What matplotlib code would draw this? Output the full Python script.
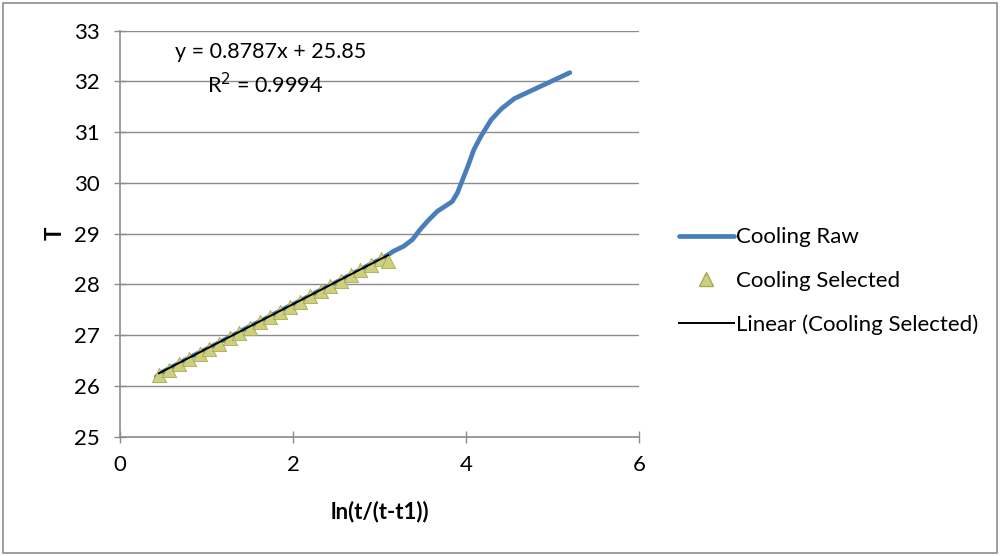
import numpy as np
import matplotlib.pyplot as plt
from matplotlib.lines import Line2D
from matplotlib.patches import Rectangle

plt.rcParams['font.family'] = ['Lato', 'DejaVu Sans']

# cooling curve, full run
raw_x = [0.42, 0.50, 0.70, 0.90, 1.10, 1.30, 1.50, 1.70, 1.90, 2.10, 2.30, 2.50,
         2.70, 2.90, 3.02, 3.08, 3.16, 3.28, 3.38, 3.47, 3.57, 3.67, 3.76, 3.84,
         3.90, 3.96, 4.02, 4.09, 4.17, 4.29, 4.41, 4.56, 4.76, 4.95, 5.20]
raw_y = [26.18, 26.28, 26.46, 26.64, 26.81, 26.99, 27.17, 27.34, 27.52, 27.69,
         27.87, 28.04, 28.22, 28.40, 28.50, 28.56, 28.65, 28.75, 28.88, 29.08,
         29.27, 29.44, 29.54, 29.63, 29.80, 30.06, 30.32, 30.65, 30.91, 31.24,
         31.46, 31.66, 31.82, 31.97, 32.17]

# points used for the linear fit
sel_x = [0.45, 0.57, 0.68, 0.80, 0.92, 1.03, 1.15, 1.27, 1.38, 1.50, 1.62, 1.73,
         1.85, 1.97, 2.08, 2.20, 2.32, 2.43, 2.55, 2.67, 2.78, 2.90, 3.02, 3.10]
sel_y = [26.22, 26.32, 26.42, 26.52, 26.63, 26.73, 26.83, 26.94, 27.04, 27.14,
         27.25, 27.35, 27.45, 27.56, 27.66, 27.76, 27.87, 27.97, 28.07, 28.18,
         28.28, 28.38, 28.49, 28.45]

slope, intercept, r2 = 0.8787, 25.85, 0.9994

blue = '#4A7EBB'
tri_face = '#CFD07C'
tri_edge = '#A8A957'
grid_c = '#8C8C8C'

fig = plt.figure(figsize=(10.01, 5.56), dpi=100)
fig.patches.append(Rectangle((3 / 1001, 3 / 556), 994 / 1001, 550 / 556,
                             transform=fig.transFigure, fill=False,
                             edgecolor='#8E8E8E', linewidth=1.2))

ax = fig.add_axes([0.1199, 0.2149, 0.5185, 0.7302])

ax.plot(raw_x, raw_y, color=blue, linewidth=3.4, solid_capstyle='round',
        solid_joinstyle='round', zorder=3)
ax.scatter(sel_x, sel_y, marker='^', s=105, facecolor=tri_face,
           edgecolor=tri_edge, linewidth=0.6, zorder=4)
fit_x = np.array([sel_x[0], sel_x[-1]])
ax.plot(fit_x, slope * fit_x + intercept, color='black', linewidth=1.4,
        zorder=5)

ax.text(1.74, 32.57, f'y = {slope}x + {intercept}', ha='center', va='center',
        fontsize=15.5)
ax.text(1.68, 31.93, f'R$^2$ = {r2}', ha='center', va='center', fontsize=15.5)

ax.set_xlim(0, 6)
ax.set_ylim(25, 33)
ax.set_xticks([0, 2, 4, 6])
ax.set_yticks(range(25, 34))
ax.tick_params(labelsize=16, length=9, direction='inout', color=grid_c,
               width=1.0)
ax.tick_params(axis='y', pad=10)
ax.tick_params(axis='x', pad=9)
ax.grid(axis='y', color=grid_c, linewidth=1.0)
ax.set_axisbelow(True)
for side in ('top', 'right'):
    ax.spines[side].set_visible(False)
for side in ('left', 'bottom'):
    ax.spines[side].set_color(grid_c)
    ax.spines[side].set_linewidth(1.2)

ax.set_xlabel('ln(t/(t-t1))', fontsize=16, fontweight='bold', labelpad=18)
ax.set_ylabel('T', fontsize=16, fontweight='bold', labelpad=6)

handles = [
    Line2D([], [], color=blue, linewidth=3.4, solid_capstyle='round'),
    Line2D([], [], linestyle='none', marker='^', markersize=10,
           markerfacecolor=tri_face, markeredgecolor=tri_edge),
    Line2D([], [], color='black', linewidth=1.4),
]
labels = ['Cooling Raw', 'Cooling Selected', 'Linear (Cooling Selected)']
fig.legend(handles, labels, loc='center left', bbox_to_anchor=(0.658, 0.4946),
           frameon=False, fontsize=16, handlelength=2.5, handletextpad=0.1,
           labelspacing=1.05)

fig.savefig('out.png', dpi=100)
